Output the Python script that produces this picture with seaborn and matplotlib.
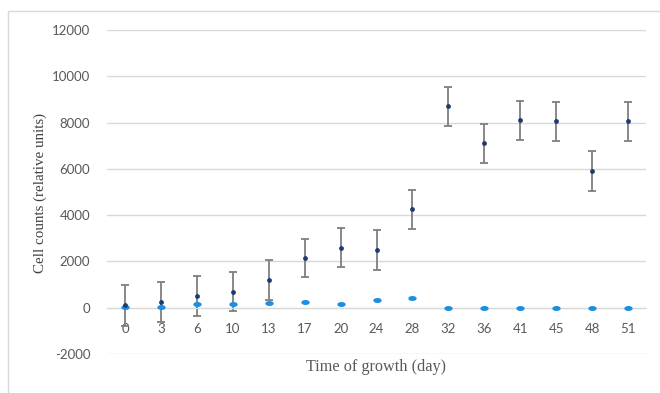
"""Cell counts over time of growth, two series with error bars."""

import numpy as np
import pandas as pd
import matplotlib
matplotlib.use("Agg")
import matplotlib.pyplot as plt
from matplotlib.patches import Rectangle
import seaborn as sns

days = ["0", "3", "6", "10", "13", "17", "20", "24", "28",
        "32", "36", "41", "45", "48", "51"]
dark_counts = [100, 250, 500, 700, 1200, 2150, 2600, 2500, 4250,
               8700, 7100, 8100, 8050, 5900, 8050]
dark_err = [870, 850, 850, 850, 850, 840, 850, 850, 850,
            850, 840, 850, 850, 860, 850]
light_counts = [50, 50, 150, 180, 200, 250, 180, 330, 440,
                0, 0, 0, 0, 0, 0]

yticks = [-2000, 0, 2000, 4000, 6000, 8000, 10000, 12000]

DARK = "#1f3b6e"
LIGHT = "#1b8fe3"
GRID = "#d9d9d9"
TEXT = "#595959"

sns.set_style("white")
plt.rcParams["font.family"] = ["Lato", "DejaVu Sans"]

df = pd.DataFrame({"day": days, "dark": dark_counts, "light": light_counts})

fig = plt.figure(figsize=(6.6, 3.93), dpi=100)
ax = fig.add_axes([107 / 660, 1 - 354 / 393, (646 - 107) / 660, (354 - 30) / 393])

# light grey frame around the chart, clipped on the right and bottom
fig.patches.append(Rectangle((8 / 660, -0.1), 1.2, 1 - 11 / 393 + 0.1,
                             transform=fig.transFigure, fill=False,
                             edgecolor="#d9d9d9", lw=1))

pos = np.arange(len(days))
ax.errorbar(pos, dark_counts, yerr=dark_err, fmt="none", ecolor="#7f7f7f",
            elinewidth=1.3, capsize=3, capthick=1.3, zorder=2)

t = np.linspace(0, 2 * np.pi, 40)
ellipse = list(zip(np.cos(t), 0.6 * np.sin(t)))

sns.scatterplot(data=df, x="day", y="light", ax=ax, color=LIGHT,
                marker=ellipse, s=36, linewidth=0, zorder=3)
sns.scatterplot(data=df, x="day", y="dark", ax=ax, color=DARK,
                s=12, linewidth=0, zorder=4)

ax.set_xlim(-0.5, len(days) - 0.5)
ax.set_ylim(-2000, 12000)
ax.set_yticks(yticks)
ax.set_yticklabels([str(v) for v in yticks])
ax.grid(axis="y", color=GRID, lw=1)
ax.set_axisbelow(True)
for side in ["left", "right", "top"]:
    ax.spines[side].set_visible(False)
ax.spines["bottom"].set_position(("data", 0))
ax.spines["bottom"].set_color(GRID)
ax.tick_params(axis="both", length=0, colors=TEXT, labelsize=9.5)
ax.tick_params(axis="x", pad=11)
ax.tick_params(axis="y", pad=12)

ax.set_xlabel("")
ax.set_ylabel("")
fig.text(376 / 660, 1 - 367 / 393, "Time of growth (day)", ha="center",
         va="center", family="Liberation Serif", fontsize=11.7, color=TEXT)
fig.text(40 / 660, 1 - 193 / 393, "Cell counts (relative units)", ha="center",
         va="center", rotation=90, family="Liberation Serif", fontsize=10.8,
         color="#404040")

fig.savefig("out.png", dpi=100)
plt.close(fig)
